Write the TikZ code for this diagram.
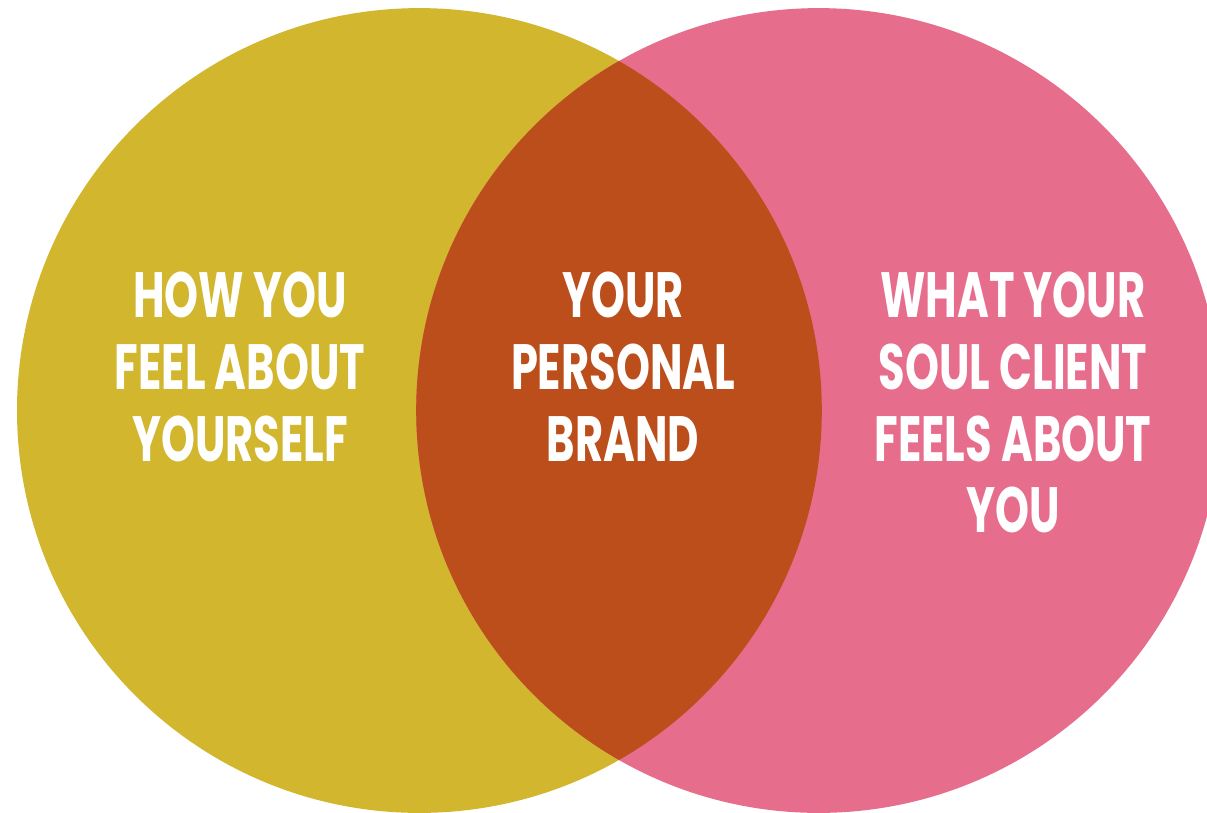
\documentclass[tikz,border=0pt]{standalone}
\usepackage{fontspec}
\newfontfamily\venfont[FakeStretch=0.675]{Poppins}
\definecolor{cyellow}{HTML}{D1B62E}
\definecolor{cpink}{HTML}{E76D8D}
\definecolor{cbrown}{HTML}{BB4E1A}
\tikzset{
  lbl/.style={anchor=base, text=white, inner sep=0pt,
    font=\venfont\bfseries\fontsize{64}{70}\selectfont}
}
\begin{document}
\begin{tikzpicture}[x=1pt,y=-1pt]
\useasboundingbox (0,0) rectangle (1207,812);
\clip (0,0) rectangle (1207,812);
\fill[white] (0,0) rectangle (1207,812);
\coordinate (cl) at (419.4,410.5);
\coordinate (cr) at (818.6,410.5);
\fill[cyellow] (cl) circle[radius=402.4];
\fill[cpink] (cr) circle[radius=402.4];
\begin{scope}
  \clip (cl) circle[radius=402.4];
  \fill[cbrown] (cr) circle[radius=402.4];
\end{scope}
% left
\node[lbl] (l1) at (240,317) {HOW YOU};
\node[lbl] (l2) at (240,389) {FEEL ABOUT};
\node[lbl] (l3) at (240,461) {YOURSELF};
% middle
\node[lbl] (m1) at (623,317) {YOUR};
\node[lbl] (m2) at (623,389) {PERSONAL};
\node[lbl] (m3) at (623,461) {BRAND};
% right
\node[lbl] (r1) at (1013,317) {WHAT YOUR};
\node[lbl] (r2) at (1013,389) {SOUL CLIENT};
\node[lbl] (r3) at (1013,461) {FEELS ABOUT};
\node[lbl] (r4) at (1013,532) {YOU};
\end{tikzpicture}
\end{document}
